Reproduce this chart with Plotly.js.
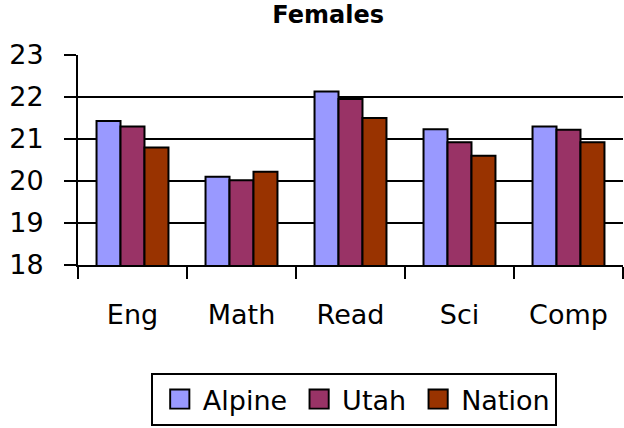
<!DOCTYPE html>
<html>
<head>
<meta charset="utf-8">
<script src="https://cdn.plot.ly/plotly-3.0.1.min.js"></script>
<style>html,body{margin:0;padding:0;background:#fff;}#chart{width:624px;height:428px;}</style>
</head>
<body>
<div id="chart"></div>
<script>
const categories = ["Eng", "Math", "Read", "Sci", "Comp"];
const seriesNames = ["Alpine", "Utah", "Nation"];
const alpine = [21.43, 20.1, 22.13, 21.23, 21.3];
const utah   = [21.3, 20.02, 21.95, 20.92, 21.22];
const nation = [20.8, 20.22, 21.5, 20.6, 20.92];
const colors = ["#9999FF", "#993366", "#993300"];

const FONT = "DejaVu Sans, Liberation Sans, Arial, sans-serif";
const allValues = [alpine, utah, nation];
const traces = seriesNames.map((name, i) => ({
  type: "bar",
  name: name,
  x: categories,
  y: allValues[i],
  marker: {color: colors[i], line: {color: "#000", width: 2}},
  hoverinfo: "x+y+name"
}));

const layout = {
  width: 624, height: 428,
  margin: {l: 78, r: 1, t: 55, b: 163},
  paper_bgcolor: "#fff", plot_bgcolor: "#fff",
  font: {family: FONT, size: 27, color: "#000"},
  title: {text: "<b>Females</b>", font: {family: FONT, size: 24, color: "#000"},
          xref: "container", x: 0.526, xanchor: "center",
          yref: "container", y: 0.985, yanchor: "top"},
  barmode: "group", bargap: 0.34, bargroupgap: 0,
  xaxis: {type: "category", showline: true, linecolor: "#000", linewidth: 2,
          ticks: "outside", tickson: "boundaries", ticklen: 12, tickwidth: 2, tickcolor: "#000",
          ticklabelstandoff: 25, showgrid: false, zeroline: false,
          tickfont: {family: FONT, size: 27}},
  yaxis: {range: [18, 23], dtick: 1, tick0: 18, showline: true, linecolor: "#000", linewidth: 2,
          ticks: "outside", ticklen: 12, tickwidth: 2, tickcolor: "#000",
          showgrid: true, gridcolor: "#000", gridwidth: 2, zeroline: false,
          ticklabelstandoff: 15, tickfont: {family: FONT, size: 27}},
  showlegend: true,
  legend: {orientation: "h", xref: "paper", x: 0.506, xanchor: "center",
           yref: "container", y: 1 - 373/428, yanchor: "top",
           bordercolor: "#000", borderwidth: 2, bgcolor: "#fff",
           font: {family: FONT, size: 27}, itemwidth: 40, traceorder: "normal"}
};

Plotly.newPlot("chart", traces, layout, {displayModeBar: false, staticPlot: true}).then(gd => {
  gd.querySelectorAll(".legend .legendpoints path").forEach(p => {
    const t = p.getAttribute("transform") || "";
    p.setAttribute("transform", t + " translate(2,0) scale(1.6)");
    p.style.strokeWidth = "1.2px";
  });
});
</script>
</body>
</html>
